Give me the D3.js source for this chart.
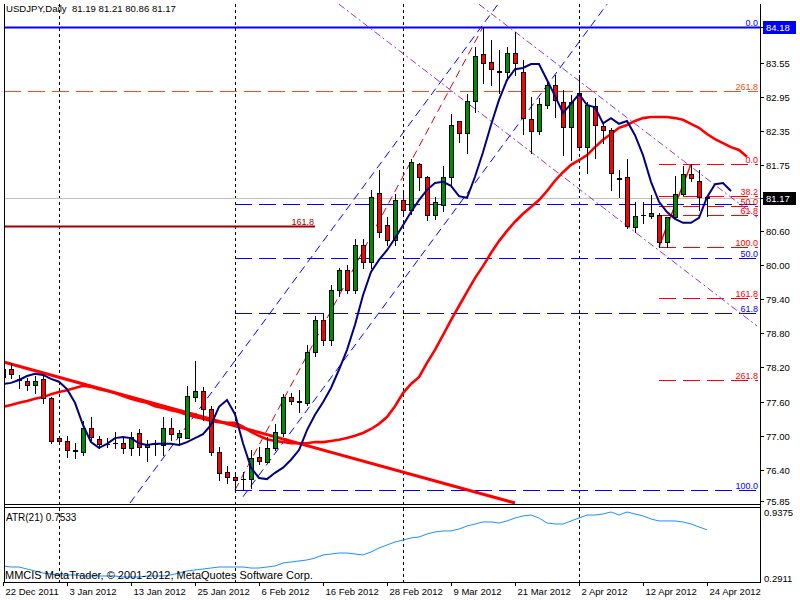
<!DOCTYPE html>
<html><head><meta charset="utf-8">
<script src="https://cdnjs.cloudflare.com/ajax/libs/d3/7.8.5/d3.min.js"></script>
<style>body{margin:0;background:#fff} svg{display:block} text{font-family:"Liberation Sans",Arial,sans-serif}</style>
</head><body><svg id="c" width="800" height="600"></svg>
<script>
// ---------------- DATA ----------------
const headerText = "USDJPY,Daily  81.19 81.21 80.86 81.17";
const atrLabel = "ATR(21) 0.7533";
const copyright = "MMCIS MetaTrader, \u00A9 2001-2012, MetaQuotes Software Corp.";

const openP  = [78.03,78.17,77.99,77.96,77.89,78.00,77.66,76.96,76.91,76.75,76.72,77.14,76.94,76.86,76.87,76.87,76.79,77.05,76.80,76.86,76.84,77.14,76.98,76.96,77.68,77.79,77.47,76.72,76.37,76.28,76.24,76.24,76.63,76.54,76.79,77.05,77.68,77.60,77.58,78.47,79.03,78.68,79.56,79.91,79.56,80.35,80.05,81.26,80.70,80.44,81.14,80.97,81.77,81.55,80.88,81.05,81.55,82.53,82.32,82.88,83.71,83.56,83.40,83.39,83.72,83.39,82.56,82.35,82.81,83.16,82.86,82.42,83.02,82.07,82.79,82.44,82.37,81.52,81.55,80.67,80.88,80.86,80.88,80.40,80.84,81.25,81.60,81.48,81.19];
const highP  = [78.24,78.28,78.07,78.02,78.05,78.05,77.68,77.00,77.00,76.87,77.26,77.33,77.00,76.96,77.07,76.98,77.07,77.12,76.93,76.93,77.33,77.31,77.10,77.88,78.31,77.86,77.52,76.80,76.47,76.31,76.37,76.75,76.80,76.98,77.21,77.73,77.75,77.80,78.60,79.10,79.15,79.65,79.95,80.00,80.45,80.45,81.32,81.67,80.85,81.25,81.30,81.86,81.79,81.57,81.20,81.74,82.65,82.53,83.00,83.83,84.18,83.95,83.78,83.83,84.09,83.60,82.95,82.93,83.25,83.34,83.07,82.99,83.34,82.86,82.93,82.51,82.41,81.67,81.86,81.11,81.11,81.23,80.91,80.84,81.56,81.74,81.77,81.67,81.21];
const lowP   = [77.98,78.02,77.84,77.81,77.75,77.58,76.87,76.87,76.63,76.61,76.66,76.93,76.79,76.80,76.79,76.70,76.66,76.66,76.56,76.66,76.66,76.93,76.84,76.96,77.61,77.28,76.66,76.22,76.17,76.05,76.05,76.08,76.51,76.54,76.75,77.00,77.56,77.42,77.54,78.40,78.60,78.60,79.45,79.50,79.50,79.95,79.95,80.50,80.35,80.35,80.90,80.90,81.32,80.79,80.80,80.95,81.37,82.16,81.97,82.69,83.20,83.16,83.02,83.25,83.34,82.30,81.97,82.30,82.76,82.60,81.93,81.84,82.02,81.62,81.88,82.14,81.32,81.19,80.65,80.58,80.74,80.83,80.32,80.32,80.83,81.23,81.48,80.97,80.86];
const closeP = [78.17,78.09,77.98,77.89,77.96,77.66,76.91,76.91,76.75,76.74,77.14,76.98,76.86,76.85,76.88,76.79,76.98,76.80,76.86,76.86,77.14,77.03,77.05,77.70,77.79,77.47,76.72,76.35,76.28,76.22,76.25,76.61,76.56,76.79,77.07,77.68,77.61,77.61,78.47,79.03,78.68,79.56,79.91,79.56,80.35,80.05,81.19,80.58,80.44,81.14,80.97,81.81,81.55,80.88,81.10,81.55,82.46,82.32,82.88,83.67,83.55,83.44,83.39,83.72,83.55,82.58,82.35,82.83,83.16,82.90,82.42,82.86,82.07,82.81,82.46,82.37,81.62,81.51,80.69,80.86,80.87,80.91,80.40,80.84,81.25,81.60,81.53,81.19,81.17];

// shifted moving averages (values per bar)
const fastMA = [77.91,77.93,77.98,78.05,78.09,78.07,78.00,77.95,77.82,77.58,77.19,76.89,76.79,76.86,76.96,76.98,76.96,76.87,76.84,76.86,76.86,76.86,76.84,76.89,76.96,77.03,77.19,77.51,77.63,77.38,76.87,76.44,76.26,76.24,76.35,76.44,76.58,76.75,77.10,77.37,77.59,77.84,78.16,78.51,78.95,79.47,79.88,80.09,80.26,80.47,80.70,80.93,81.14,81.32,81.44,81.46,81.39,81.21,81.18,81.55,81.98,82.46,82.90,83.25,83.44,83.46,83.53,83.53,83.25,82.97,82.67,82.83,83.00,82.81,82.77,82.49,82.58,82.48,82.53,82.28,81.93,81.46,81.11,80.93,80.81,80.74,80.74,80.83,81.19,81.42,81.44,81.30];
const slowMA = [77.51,77.54,77.58,77.61,77.65,77.68,77.73,77.77,77.80,77.84,77.88,77.86,77.82,77.79,77.75,77.70,77.65,77.61,77.58,77.52,77.49,77.45,77.42,77.37,77.33,77.30,77.26,77.24,77.23,77.23,77.16,77.07,77.00,76.94,76.91,76.89,76.87,76.87,76.87,76.89,76.89,76.91,76.93,76.96,77.00,77.05,77.12,77.21,77.33,77.52,77.75,77.91,78.03,78.28,78.51,78.77,79.03,79.28,79.53,79.77,79.98,80.21,80.42,80.60,80.76,80.90,81.02,81.14,81.30,81.48,81.63,81.76,81.84,81.93,82.07,82.20,82.30,82.41,82.46,82.53,82.58,82.60,82.60,82.60,82.58,82.55,82.48,82.41,82.30,82.21,82.14,82.07,82.02,81.90];
const atr = [0.399,0.389,0.389,0.369,0.350,0.330,0.320,0.311,0.311,0.311,0.301,0.301,0.301,0.301,0.301,0.291,0.291,0.291,0.301,0.301,0.301,0.311,0.330,0.350,0.360,0.369,0.379,0.389,0.389,0.389,0.389,0.379,0.379,0.389,0.399,0.428,0.438,0.448,0.458,0.477,0.507,0.516,0.526,0.526,0.516,0.507,0.536,0.575,0.605,0.634,0.653,0.673,0.683,0.712,0.732,0.742,0.742,0.761,0.791,0.810,0.830,0.830,0.820,0.840,0.869,0.889,0.898,0.869,0.820,0.810,0.810,0.840,0.869,0.898,0.898,0.908,0.928,0.898,0.928,0.908,0.889,0.859,0.840,0.840,0.840,0.830,0.810,0.781,0.753];

const xTickIdx = [0,8,16,24,32,40,48,56,64,72,80,88];
const xTickLabels = ["22 Dec 2011","3 Jan 2012","13 Jan 2012","25 Jan 2012","6 Feb 2012","16 Feb 2012","28 Feb 2012","9 Mar 2012","21 Mar 2012","2 Apr 2012","12 Apr 2012","24 Apr 2012"];
const monthStartIdx = [7,29,50,72];
const priceTicks = ["83.55","82.95","82.35","81.75","80.60","80.00","79.40","78.80","78.20","77.60","77.00","76.40","75.85"];
const atrTicks = ["0.9375","0.2911"];
const hLinePrice = 84.18;   // horizontal line object
const bidPrice = 81.17;

// trend lines: [barIndex, price] pairs
const redTrend   = [[0, 78.30], [64, 75.82]];
const channelA   = [[15.875, 75.82], [61.875, 84.58]];
const channelB   = [[30, 75.93], [75.5, 84.58]];
const fibBigLine = [[29, 76.05], [60, 84.18]];
const purple1    = [[42, 84.58], [94.25, 78.93]];
const purple2    = [[59.5, 84.58], [94.25, 80.84]];
const fibSmallLine = [[82, 80.32], [86, 81.77]];

// fibonacci objects
const fibBig   = {startIdx: 29, high: 84.18, low: 76.05, levels: [0, 38.2, 50, 61.8, 100], labels: ["0.0", "", "50.0", "61.8", "100.0"]};
const fibSmall = {startIdx: 82, high: 81.77, low: 80.32, levels: [0, 38.2, 50, 61.8, 100, 161.8, 261.8], labels: ["0.0","38.2","50.0","61.8","100.0","161.8","261.8"]};
const orangeLevel = {price: 83.06, label: "261.8"};
const darkRedLevel = {price: 80.68, label: "161.8", endIdx: 39};

// ---------------- DRAW ----------------
const svg = d3.select("#c");
const L = 4, R = 760, T = 4, MB = 504, AT = 507, AB = 582;
const x = d3.scaleLinear().domain([0, 88]).range([3, 707]);
const y = d3.scaleLinear().domain([75.85, 84.18]).range([501.3, 27]);
const ya = d3.scaleLinear().domain([0.2911, 0.9375]).range([577, 511]);

svg.append("rect").attr("width", 800).attr("height", 600).attr("fill", "#fff");
const defs = svg.append("defs");
defs.append("clipPath").attr("id", "cm").append("rect").attr("x", L + 1).attr("y", T).attr("width", R - L - 1).attr("height", MB - T);
defs.append("clipPath").attr("id", "ca").append("rect").attr("x", L + 1).attr("y", AT + 1).attr("width", R - L - 1).attr("height", AB - AT - 1);

// month grid
svg.append("g").selectAll("line").data(monthStartIdx).join("line")
  .attr("x1", d => Math.round(x(d)) + 0.5).attr("x2", d => Math.round(x(d)) + 0.5)
  .attr("y1", T).attr("y2", AB).attr("stroke", "#000").attr("stroke-dasharray", "3,3");

const main = svg.append("g").attr("clip-path", "url(#cm)");
const line = d3.line().x(d => x(d[0])).y(d => y(d[1]));

// bid line
main.append("line").attr("x1", L).attr("x2", R).attr("y1", Math.round(y(bidPrice)) + 0.5).attr("y2", Math.round(y(bidPrice)) + 0.5).attr("stroke", "#c0c0c0");

// horizontal levels
function hl(p, x1, x2, color, dash, w) {
  const yy = Math.round(y(p)) + 0.5;
  main.append("line").attr("x1", x1).attr("x2", x2).attr("y1", yy).attr("y2", yy)
    .attr("stroke", color).attr("stroke-width", w || 1).attr("stroke-dasharray", dash || null);
}
function lbl(p, xx, txt, color) {
  if (!txt) return;
  main.append("text").attr("x", xx).attr("y", Math.round(y(p)) - 1.5).attr("text-anchor", "end")
    .attr("font-size", 9).attr("fill", color).text(txt);
}
hl(orangeLevel.price, L, 758, "#f05020", "17,7");
lbl(orangeLevel.price, 758, orangeLevel.label, "#f05020");
hl(darkRedLevel.price, L, x(darkRedLevel.endIdx), "#a00000", null, 2);
lbl(darkRedLevel.price, x(darkRedLevel.endIdx) - 1, darkRedLevel.label, "#a00000");

fibBig.levels.forEach((lv, k) => {
  const p = fibBig.high - (fibBig.high - fibBig.low) * lv / 100;
  hl(p, x(fibBig.startIdx), 758, "#0000ff", "17,7");
  lbl(p, 758, fibBig.labels[k], "#0000ff");
});
fibSmall.levels.forEach((lv, k) => {
  const p = fibSmall.high - (fibSmall.high - fibSmall.low) * lv / 100;
  hl(p, x(fibSmall.startIdx), 758, "#ff0000", "17,7");
  lbl(p, 758, fibSmall.labels[k], "#ff0000");
});
// solid horizontal line
hl(hLinePrice, L, R, "#0000ff", null, 2);

// trend lines
main.append("path").attr("d", line(channelA)).attr("fill", "none").attr("stroke", "#0000ff").attr("stroke-dasharray", "8,5");
main.append("path").attr("d", line(channelB)).attr("fill", "none").attr("stroke", "#0000ff").attr("stroke-dasharray", "8,5");
main.append("path").attr("d", line(fibBigLine)).attr("fill", "none").attr("stroke", "#dd0000").attr("stroke-dasharray", "8,5");
main.append("path").attr("d", line(fibSmallLine)).attr("fill", "none").attr("stroke", "#ff0000").attr("stroke-width", 1.5);
main.append("path").attr("d", line(purple1)).attr("fill", "none").attr("stroke", "#9932cc").attr("stroke-dasharray", "7,3,2,3");
main.append("path").attr("d", line(purple2)).attr("fill", "none").attr("stroke", "#9932cc").attr("stroke-dasharray", "7,3,2,3");

// moving averages + red trendline
main.append("path").attr("d", line(slowMA.map((v, i) => [i, v]))).attr("fill", "none").attr("stroke", "#ff0000").attr("stroke-width", 2.6);
main.append("path").attr("d", line(redTrend)).attr("fill", "none").attr("stroke", "#ff0000").attr("stroke-width", 3);

// candles
const cg = main.append("g");
openP.forEach((o, i) => {
  const cx = Math.round(x(i));
  const h = highP[i], l = lowP[i], c = closeP[i];
  cg.append("line").attr("x1", cx + 0.5).attr("x2", cx + 0.5).attr("y1", Math.round(y(h))).attr("y2", Math.round(y(l)) + 1).attr("stroke", "#000");
  const yt = Math.round(y(Math.max(o, c))), yb = Math.round(y(Math.min(o, c)));
  if (yb - yt < 1) {
    cg.append("line").attr("x1", cx - 2).attr("x2", cx + 3).attr("y1", yt + 0.5).attr("y2", yt + 0.5).attr("stroke", "#000");
  } else {
    cg.append("rect").attr("x", cx - 1.5).attr("y", yt + 0.5).attr("width", 4).attr("height", yb - yt)
      .attr("fill", c >= o ? "#008c00" : "#ff0000").attr("stroke", "#000");
  }
});

main.append("path").attr("d", line(fastMA.map((v, i) => [i, v]))).attr("fill", "none").attr("stroke", "#000080").attr("stroke-width", 2);

// ATR panel
svg.append("g").attr("clip-path", "url(#ca)").append("path")
  .attr("d", d3.line().x((d, i) => x(i)).y(d => ya(d))(atr))
  .attr("fill", "none").attr("stroke", "#1e90ff").attr("stroke-width", 1);

// frames
const fr = svg.append("g").attr("stroke", "#000").attr("fill", "none");
fr.append("line").attr("x1", L + 0.5).attr("x2", L + 0.5).attr("y1", T).attr("y2", AB + 0.5);
fr.append("line").attr("x1", R + 0.5).attr("x2", R + 0.5).attr("y1", T).attr("y2", AB + 0.5);
fr.append("line").attr("x1", L).attr("x2", R + 1).attr("y1", MB + 0.5).attr("y2", MB + 0.5);
fr.append("line").attr("x1", L).attr("x2", R + 1).attr("y1", AT + 0.5).attr("y2", AT + 0.5);
fr.append("line").attr("x1", L).attr("x2", R + 1).attr("y1", AB + 0.5).attr("y2", AB + 0.5);

// price axis
const ax = svg.append("g");
priceTicks.forEach(t => {
  const yy = Math.round(y(+t)) + 0.5;
  ax.append("line").attr("x1", R).attr("x2", R + 4).attr("y1", yy).attr("y2", yy).attr("stroke", "#000");
  ax.append("text").attr("x", 766).attr("y", yy + 3.5).attr("font-size", 9.5).attr("fill", "#000").text(t);
});
function box(p, bg) {
  const yy = Math.round(y(p));
  ax.append("rect").attr("x", 763).attr("y", yy - 6).attr("width", 33).attr("height", 13).attr("fill", bg);
  ax.append("line").attr("x1", R).attr("x2", R + 4).attr("y1", yy + 0.5).attr("y2", yy + 0.5).attr("stroke", "#000");
  ax.append("text").attr("x", 766).attr("y", yy + 4).attr("font-size", 9.5).attr("fill", "#fff").text(p.toFixed(2));
}
box(hLinePrice, "#0000ff");
box(bidPrice, "#000");
atrTicks.forEach(t => {
  ax.append("text").attr("x", 764).attr("y", Math.round(ya(+t)) + 5).attr("font-size", 9.5).attr("fill", "#000").text(t);
});

// time axis
xTickIdx.forEach((d, k) => {
  const xx = Math.round(x(d)) + 0.5;
  ax.append("line").attr("x1", xx).attr("x2", xx).attr("y1", AB).attr("y2", AB + 4).attr("stroke", "#000");
  ax.append("text").attr("x", xx + 2).attr("y", 595).attr("font-size", 9.5).attr("fill", "#000").text(xTickLabels[k]);
});

// texts
svg.append("text").attr("x", 6).attr("y", 12).attr("font-size", 9.6).attr("fill", "#000").attr("xml:space", "preserve").text(headerText);
svg.append("text").attr("x", 6).attr("y", 521).attr("font-size", 10).attr("fill", "#000").text(atrLabel);
svg.append("text").attr("x", 5).attr("y", 579).attr("font-size", 11).attr("fill", "#000").text(copyright);
</script></body></html>
